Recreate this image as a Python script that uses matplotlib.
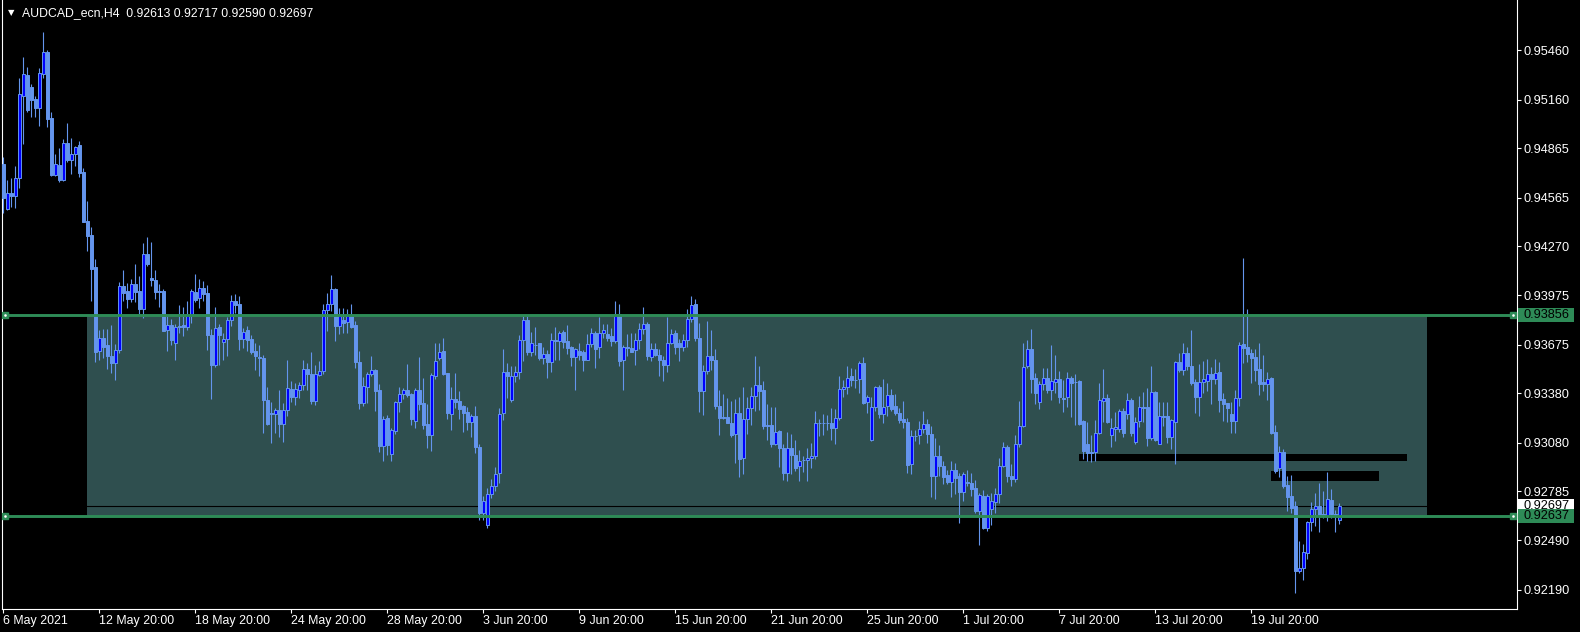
import numpy as np
import matplotlib
matplotlib.use("Agg")
import matplotlib.pyplot as plt
from matplotlib.patches import Rectangle

# AUDCAD H4 candles, bar 0 = 6 May 2021 20:00
opens = [
    0.94768, 0.94494, 0.94591, 0.94578, 0.94682, 0.95183, 0.95309, 0.95236, 0.95163, 0.95111,
    0.95317, 0.95446, 0.95047, 0.94703, 0.94764, 0.94673, 0.94895, 0.94796, 0.94828, 0.94884,
    0.94721, 0.94424, 0.94339, 0.94143, 0.93635, 0.93713, 0.93670, 0.93608, 0.93562, 0.93641,
    0.94029, 0.93998, 0.93949, 0.94043, 0.94002, 0.93892, 0.94227, 0.94080, 0.94068, 0.94000,
    0.94000, 0.93762, 0.93796, 0.93686, 0.93788, 0.93792, 0.93784, 0.93853, 0.93992, 0.93956,
    0.94017, 0.93988, 0.93735, 0.93549, 0.93780, 0.93692, 0.93711, 0.93823, 0.93939, 0.93921,
    0.93707, 0.93762, 0.93707, 0.93639, 0.93602, 0.93596, 0.93339, 0.93260, 0.93256, 0.93276,
    0.93194, 0.93276, 0.93409, 0.93360, 0.93402, 0.93429, 0.93527, 0.93498, 0.93335, 0.93490,
    0.93513, 0.93884, 0.93919, 0.94013, 0.93788, 0.93825, 0.93813, 0.93857, 0.93792, 0.93568,
    0.93323, 0.93421, 0.93494, 0.93523, 0.93400, 0.93059, 0.93229, 0.93013, 0.93151, 0.93325,
    0.93374, 0.93400, 0.93376, 0.93213, 0.93400, 0.93323, 0.93192, 0.93125, 0.93482, 0.93594,
    0.93635, 0.93502, 0.93257, 0.93343, 0.93331, 0.93302, 0.93266, 0.93204, 0.93241, 0.93057,
    0.92655, 0.92584, 0.92772, 0.92817, 0.92894, 0.93258, 0.93509, 0.93340, 0.93482, 0.93507,
    0.93703, 0.93825, 0.93633, 0.93674, 0.93682, 0.93591, 0.93619, 0.93568, 0.93703, 0.93699,
    0.93754, 0.93695, 0.93658, 0.93599, 0.93637, 0.93629, 0.93584, 0.93680, 0.93748, 0.93660,
    0.93748, 0.93737, 0.93725, 0.93697, 0.93858, 0.93584, 0.93662, 0.93652, 0.93642, 0.93701,
    0.93772, 0.93799, 0.93601, 0.93646, 0.93615, 0.93584, 0.93554, 0.93686, 0.93748, 0.93682,
    0.93660, 0.93703, 0.93833, 0.93921, 0.93717, 0.93391, 0.93515, 0.93609, 0.93584, 0.93303,
    0.93235, 0.93235, 0.93203, 0.93135, 0.93258, 0.92989, 0.93227, 0.93289, 0.93364, 0.93431,
    0.93401, 0.93186, 0.93186, 0.93074, 0.93152, 0.93050, 0.92895, 0.93050, 0.93009, 0.92942,
    0.92976, 0.92976, 0.92989, 0.93001, 0.93201, 0.93203, 0.93203, 0.93202, 0.93172, 0.93231,
    0.93407, 0.93417, 0.93482, 0.93462, 0.93466, 0.93564, 0.93325, 0.93098, 0.93298, 0.93417,
    0.93253, 0.93302, 0.93368, 0.93302, 0.93262, 0.93227, 0.93207, 0.92951, 0.93123, 0.93129,
    0.93166, 0.93196, 0.93135, 0.92880, 0.93000, 0.92937, 0.92886, 0.92845, 0.92915, 0.92876,
    0.92784, 0.92841, 0.92837, 0.92805, 0.92666, 0.92758, 0.92564, 0.92676, 0.92721, 0.92768,
    0.92941, 0.93053, 0.92880, 0.92860, 0.93074, 0.93182, 0.93543, 0.93651, 0.93472, 0.93329,
    0.93437, 0.93472, 0.93400, 0.93451, 0.93466, 0.93351, 0.93355, 0.93472, 0.93451, 0.93457,
    0.93210, 0.93070, 0.93023, 0.93023, 0.93139, 0.93335, 0.93351, 0.93129, 0.93163, 0.93166,
    0.93272, 0.93257, 0.93339, 0.93084, 0.93212, 0.93294, 0.93298, 0.93108, 0.93390, 0.93074,
    0.93241, 0.93242, 0.93115, 0.93207, 0.93570, 0.93523, 0.93623, 0.93548, 0.93450, 0.93360,
    0.93448, 0.93456, 0.93497, 0.93466, 0.93507, 0.93344, 0.93323, 0.93254, 0.93213, 0.93350,
    0.93676, 0.93658, 0.93627, 0.93597, 0.93529, 0.93446, 0.93434, 0.93470, 0.93146, 0.92927,
    0.93023, 0.92825, 0.92758, 0.92697, 0.92300, 0.92324, 0.92411, 0.92603, 0.92680, 0.92697,
    0.92646, 0.92636, 0.92734, 0.92646, 0.92613,
]
highs = [
    0.94812, 0.94673, 0.94682, 0.94758, 0.95288, 0.95418, 0.95357, 0.95253, 0.95183, 0.95353,
    0.95571, 0.95460, 0.95082, 0.94828, 0.94869, 0.94921, 0.95018, 0.94929, 0.94880, 0.94909,
    0.94743, 0.94545, 0.94388, 0.94194, 0.93762, 0.93768, 0.93768, 0.93792, 0.93676, 0.94057,
    0.94129, 0.94049, 0.94074, 0.94162, 0.94092, 0.94288, 0.94325, 0.94296, 0.94129, 0.94043,
    0.94013, 0.93853, 0.93829, 0.93798, 0.93915, 0.93904, 0.93939, 0.94013, 0.94104, 0.94074,
    0.94062, 0.94037, 0.93768, 0.93902, 0.93798, 0.93743, 0.93845, 0.93976, 0.93982, 0.93968,
    0.93774, 0.93788, 0.93731, 0.93686, 0.93674, 0.93615, 0.93421, 0.93327, 0.93288, 0.93400,
    0.93323, 0.93584, 0.93453, 0.93445, 0.93449, 0.93584, 0.93564, 0.93633, 0.93553, 0.93578,
    0.93921, 0.93988, 0.94098, 0.94020, 0.93894, 0.93896, 0.93890, 0.93921, 0.93819, 0.93639,
    0.93478, 0.93508, 0.93608, 0.93530, 0.93437, 0.93243, 0.93247, 0.93168, 0.93335, 0.93421,
    0.93415, 0.93559, 0.93380, 0.93411, 0.93600, 0.93470, 0.93315, 0.93502, 0.93682, 0.93682,
    0.93717, 0.93506, 0.93417, 0.93506, 0.93394, 0.93308, 0.93298, 0.93253, 0.93302, 0.93074,
    0.92757, 0.92804, 0.92859, 0.92935, 0.93288, 0.93650, 0.93564, 0.93548, 0.93548, 0.93731,
    0.93854, 0.93854, 0.93752, 0.93780, 0.93686, 0.93662, 0.93642, 0.93748, 0.93784, 0.93760,
    0.93764, 0.93793, 0.93666, 0.93654, 0.93682, 0.93642, 0.93737, 0.93778, 0.93756, 0.93840,
    0.93799, 0.93799, 0.93778, 0.93937, 0.93921, 0.93670, 0.93737, 0.93748, 0.93748, 0.93803,
    0.93903, 0.93811, 0.93686, 0.93682, 0.93646, 0.93609, 0.93840, 0.93772, 0.93762, 0.93707,
    0.93742, 0.93891, 0.93968, 0.93952, 0.93809, 0.93554, 0.93819, 0.93764, 0.93646, 0.93401,
    0.93374, 0.93350, 0.93335, 0.93344, 0.93356, 0.93417, 0.93356, 0.93417, 0.93609, 0.93548,
    0.93456, 0.93315, 0.93299, 0.93299, 0.93156, 0.93074, 0.93144, 0.93131, 0.93099, 0.93037,
    0.93003, 0.93050, 0.93078, 0.93272, 0.93227, 0.93254, 0.93248, 0.93288, 0.93284, 0.93486,
    0.93462, 0.93543, 0.93533, 0.93527, 0.93578, 0.93602, 0.93370, 0.93360, 0.93425, 0.93431,
    0.93466, 0.93445, 0.93405, 0.93376, 0.93292, 0.93333, 0.93233, 0.93156, 0.93156, 0.93211,
    0.93274, 0.93225, 0.93180, 0.93107, 0.93064, 0.92972, 0.92915, 0.92972, 0.92956, 0.92894,
    0.92900, 0.92915, 0.92894, 0.92856, 0.92778, 0.92792, 0.92768, 0.92776, 0.92809, 0.92988,
    0.93084, 0.93064, 0.92950, 0.93125, 0.93335, 0.93686, 0.93706, 0.93768, 0.93502, 0.93457,
    0.93533, 0.93533, 0.93670, 0.93614, 0.93517, 0.93461, 0.93512, 0.93486, 0.93498, 0.93461,
    0.93217, 0.93206, 0.93125, 0.93217, 0.93441, 0.93527, 0.93374, 0.93233, 0.93268, 0.93284,
    0.93288, 0.93380, 0.93349, 0.93237, 0.93363, 0.93390, 0.93410, 0.93547, 0.93394, 0.93329,
    0.93329, 0.93327, 0.93227, 0.93578, 0.93625, 0.93687, 0.93658, 0.93762, 0.93466, 0.93560,
    0.93578, 0.93585, 0.93540, 0.93585, 0.93572, 0.93380, 0.93323, 0.93327, 0.93397, 0.93693,
    0.94197, 0.93891, 0.93646, 0.93646, 0.93682, 0.93615, 0.93507, 0.93476, 0.93187, 0.93058,
    0.93040, 0.92880, 0.92887, 0.92727, 0.92487, 0.92466, 0.92609, 0.92723, 0.92776, 0.92834,
    0.92785, 0.92905, 0.92803, 0.92672, 0.92717,
]
lows = [
    0.94475, 0.94490, 0.94511, 0.94501, 0.94626, 0.94892, 0.95086, 0.95057, 0.95057, 0.95002,
    0.95288, 0.94996, 0.94699, 0.94699, 0.94663, 0.94667, 0.94783, 0.94711, 0.94760, 0.94692,
    0.94420, 0.94244, 0.93939, 0.93572, 0.93580, 0.93594, 0.93527, 0.93506, 0.93462, 0.93625,
    0.93941, 0.93896, 0.93931, 0.93931, 0.93859, 0.93839, 0.94149, 0.94033, 0.93953, 0.93900,
    0.93757, 0.93635, 0.93672, 0.93580, 0.93747, 0.93727, 0.93764, 0.93804, 0.93931, 0.93896,
    0.93941, 0.93645, 0.93347, 0.93537, 0.93549, 0.93584, 0.93604, 0.93788, 0.93866, 0.93645,
    0.93656, 0.93635, 0.93621, 0.93523, 0.93482, 0.93139, 0.93186, 0.93078, 0.93139, 0.93115,
    0.93084, 0.93245, 0.93329, 0.93309, 0.93349, 0.93400, 0.93400, 0.93315, 0.93311, 0.93486,
    0.93498, 0.93758, 0.93880, 0.93696, 0.93737, 0.93743, 0.93747, 0.93774, 0.93531, 0.93284,
    0.93302, 0.93319, 0.93482, 0.93274, 0.93023, 0.92968, 0.93008, 0.92968, 0.93135, 0.93268,
    0.93343, 0.93359, 0.93188, 0.93170, 0.93278, 0.93164, 0.93047, 0.93033, 0.93466, 0.93584,
    0.93492, 0.93227, 0.93155, 0.93288, 0.93227, 0.93145, 0.93155, 0.93115, 0.93017, 0.92615,
    0.92615, 0.92564, 0.92747, 0.92788, 0.92839, 0.93221, 0.93354, 0.93329, 0.93446, 0.93466,
    0.93574, 0.93613, 0.93605, 0.93613, 0.93584, 0.93560, 0.93470, 0.93507, 0.93580, 0.93580,
    0.93654, 0.93621, 0.93548, 0.93397, 0.93580, 0.93513, 0.93580, 0.93662, 0.93531, 0.93593,
    0.93717, 0.93695, 0.93666, 0.93686, 0.93548, 0.93401, 0.93605, 0.93629, 0.93552, 0.93646,
    0.93737, 0.93584, 0.93574, 0.93605, 0.93486, 0.93452, 0.93507, 0.93676, 0.93621, 0.93574,
    0.93635, 0.93662, 0.93813, 0.93697, 0.93268, 0.93248, 0.93499, 0.93523, 0.93282, 0.93125,
    0.93223, 0.93197, 0.93113, 0.92956, 0.92870, 0.92891, 0.93135, 0.93186, 0.93274, 0.93278,
    0.93166, 0.93095, 0.93054, 0.93064, 0.92935, 0.92854, 0.92850, 0.92891, 0.92911, 0.92850,
    0.92901, 0.92850, 0.92925, 0.92980, 0.93119, 0.93125, 0.93156, 0.93094, 0.93070, 0.93217,
    0.93360, 0.93376, 0.93425, 0.93411, 0.93384, 0.93315, 0.93258, 0.93090, 0.93274, 0.93233,
    0.93200, 0.93241, 0.93274, 0.93247, 0.93200, 0.93172, 0.92898, 0.92890, 0.93090, 0.93070,
    0.93139, 0.93078, 0.92751, 0.92737, 0.92880, 0.92829, 0.92829, 0.92751, 0.92768, 0.92594,
    0.92727, 0.92819, 0.92758, 0.92656, 0.92458, 0.92560, 0.92547, 0.92580, 0.92656, 0.92717,
    0.92931, 0.92840, 0.92820, 0.92840, 0.93053, 0.93176, 0.93533, 0.93380, 0.93314, 0.93286,
    0.93400, 0.93384, 0.93339, 0.93380, 0.93319, 0.93268, 0.93298, 0.93237, 0.93186, 0.93186,
    0.92982, 0.92968, 0.92961, 0.92972, 0.93135, 0.93206, 0.93200, 0.93053, 0.93090, 0.93145,
    0.93114, 0.93227, 0.93119, 0.93070, 0.93176, 0.93206, 0.93059, 0.93094, 0.93090, 0.93070,
    0.93180, 0.93078, 0.93040, 0.92952, 0.93507, 0.93493, 0.93519, 0.93431, 0.93262, 0.93244,
    0.93380, 0.93391, 0.93315, 0.93434, 0.93268, 0.93213, 0.93207, 0.93140, 0.93140, 0.93305,
    0.93564, 0.93568, 0.93442, 0.93452, 0.93372, 0.93391, 0.93340, 0.93136, 0.92895, 0.92870,
    0.92805, 0.92666, 0.92656, 0.92169, 0.92290, 0.92246, 0.92375, 0.92544, 0.92576, 0.92540,
    0.92625, 0.92609, 0.92625, 0.92540, 0.92590,
]
closes = [
    0.94566, 0.94591, 0.94576, 0.94682, 0.95192, 0.95313, 0.95097, 0.95159, 0.95111, 0.95319,
    0.95446, 0.95045, 0.94703, 0.94768, 0.94673, 0.94895, 0.94793, 0.94828, 0.94871, 0.94717,
    0.94420, 0.94335, 0.94135, 0.93632, 0.93717, 0.93659, 0.93604, 0.93562, 0.93641, 0.94029,
    0.93986, 0.93953, 0.94045, 0.93996, 0.93890, 0.94227, 0.94162, 0.94064, 0.93996, 0.93996,
    0.93757, 0.93794, 0.93702, 0.93784, 0.93784, 0.93784, 0.93853, 0.94000, 0.93947, 0.94017,
    0.93982, 0.93731, 0.93549, 0.93778, 0.93731, 0.93711, 0.93823, 0.93939, 0.93915, 0.93707,
    0.93753, 0.93700, 0.93631, 0.93604, 0.93592, 0.93339, 0.93196, 0.93256, 0.93276, 0.93194,
    0.93276, 0.93411, 0.93360, 0.93404, 0.93431, 0.93527, 0.93496, 0.93333, 0.93498, 0.93515,
    0.93884, 0.93919, 0.94013, 0.93788, 0.93853, 0.93804, 0.93857, 0.93784, 0.93568, 0.93323,
    0.93425, 0.93498, 0.93523, 0.93396, 0.93059, 0.93227, 0.93064, 0.93155, 0.93329, 0.93374,
    0.93400, 0.93370, 0.93223, 0.93400, 0.93315, 0.93186, 0.93125, 0.93492, 0.93578, 0.93633,
    0.93496, 0.93262, 0.93343, 0.93329, 0.93284, 0.93262, 0.93204, 0.93245, 0.93053, 0.92655,
    0.92727, 0.92772, 0.92817, 0.92890, 0.93257, 0.93509, 0.93482, 0.93482, 0.93507, 0.93703,
    0.93825, 0.93633, 0.93686, 0.93670, 0.93591, 0.93619, 0.93568, 0.93703, 0.93697, 0.93748,
    0.93691, 0.93652, 0.93599, 0.93646, 0.93611, 0.93584, 0.93680, 0.93748, 0.93650, 0.93748,
    0.93766, 0.93717, 0.93695, 0.93858, 0.93574, 0.93662, 0.93654, 0.93633, 0.93701, 0.93772,
    0.93797, 0.93605, 0.93646, 0.93615, 0.93580, 0.93554, 0.93686, 0.93742, 0.93660, 0.93660,
    0.93703, 0.93833, 0.93917, 0.93713, 0.93391, 0.93515, 0.93605, 0.93580, 0.93303, 0.93231,
    0.93231, 0.93201, 0.93127, 0.93258, 0.92980, 0.93227, 0.93289, 0.93366, 0.93433, 0.93391,
    0.93182, 0.93182, 0.93074, 0.93148, 0.93048, 0.92895, 0.93050, 0.93005, 0.92927, 0.92968,
    0.92976, 0.92989, 0.93001, 0.93197, 0.93201, 0.93203, 0.93203, 0.93170, 0.93231, 0.93405,
    0.93421, 0.93472, 0.93458, 0.93462, 0.93564, 0.93321, 0.93356, 0.93298, 0.93417, 0.93253,
    0.93298, 0.93368, 0.93282, 0.93258, 0.93217, 0.93207, 0.92947, 0.93121, 0.93123, 0.93166,
    0.93194, 0.93135, 0.92876, 0.93000, 0.92939, 0.92874, 0.92845, 0.92915, 0.92868, 0.92784,
    0.92890, 0.92837, 0.92802, 0.92666, 0.92766, 0.92564, 0.92758, 0.92727, 0.92768, 0.92941,
    0.93057, 0.92880, 0.92860, 0.93074, 0.93184, 0.93539, 0.93649, 0.93468, 0.93380, 0.93437,
    0.93472, 0.93400, 0.93455, 0.93466, 0.93359, 0.93347, 0.93472, 0.93445, 0.93449, 0.93196,
    0.93033, 0.93017, 0.93021, 0.93139, 0.93339, 0.93349, 0.93206, 0.93172, 0.93176, 0.93272,
    0.93139, 0.93339, 0.93139, 0.93206, 0.93298, 0.93292, 0.93108, 0.93388, 0.93094, 0.93241,
    0.93239, 0.93115, 0.93217, 0.93570, 0.93519, 0.93623, 0.93544, 0.93442, 0.93360, 0.93448,
    0.93466, 0.93497, 0.93466, 0.93503, 0.93340, 0.93315, 0.93293, 0.93213, 0.93350, 0.93672,
    0.93654, 0.93617, 0.93591, 0.93523, 0.93438, 0.93434, 0.93466, 0.93140, 0.92907, 0.93023,
    0.92821, 0.92752, 0.92687, 0.92300, 0.92320, 0.92417, 0.92603, 0.92680, 0.92697, 0.92636,
    0.92642, 0.92738, 0.92646, 0.92642, 0.92697,
]

tick_bars = [0, 24, 48, 72, 96, 120, 144, 168, 192, 216, 240, 264, 288, 312]
tick_labels = ["6 May 2021", "12 May 20:00", "18 May 20:00", "24 May 20:00", "28 May 20:00",
               "3 Jun 20:00", "9 Jun 20:00", "15 Jun 20:00", "21 Jun 20:00", "25 Jun 20:00",
               "1 Jul 20:00", "7 Jul 20:00", "13 Jul 20:00", "19 Jul 20:00"]
price_ticks = [0.95460, 0.95160, 0.94865, 0.94565, 0.94270, 0.93975,
               0.93675, 0.93380, 0.93080, 0.92785, 0.92490, 0.92190]

level_high = 0.93856
level_low = 0.92637
bid = 0.92697
zone = (21, 356)                      # bars spanned by the teal zone
blocks = [(269, 351, 0.92972, 0.93012),  # black rectangles: bar0, bar1, low, high
          (317, 344, 0.92850, 0.92909)]

BG = "black"
FG = "white"
CANDLE = "#6495ED"
BULL = "#0000FF"
GREEN = "#2E8B57"
ZONE = "#2F4F4F"

plt.rcParams["font.family"] = ["Liberation Sans", "DejaVu Sans"]
FS = 9.2
FSX = 8.9

W, H = 1580, 632
fig = plt.figure(figsize=(W / 100, H / 100), dpi=100, facecolor=BG)
ax = fig.add_axes([2 / W, 23 / H, 1515 / W, 609 / H])
ax.set_facecolor(BG)

o = np.array(opens)
h = np.array(highs)
l = np.array(lows)
c = np.array(closes)
x = np.arange(len(c))

ax.set_xlim(-0.325, 378.425)
ax.set_ylim(0.920727, 0.957636)

ax.add_patch(Rectangle((zone[0], level_low), zone[1] - zone[0], level_high - level_low,
                       facecolor=ZONE, edgecolor="none", zorder=1))
for b0, b1, p0, p1 in blocks:
    ax.add_patch(Rectangle((b0, p0), b1 - b0, p1 - p0, facecolor="black",
                           edgecolor="none", zorder=2))
ax.axhline(bid, color="black", lw=0.8, zorder=2.5)

ax.vlines(x, l, h, color=CANDLE, lw=0.8, zorder=3)
up = c >= o
ax.bar(x[up], c[up] - o[up], bottom=o[up], width=0.72, color=BULL,
       edgecolor=CANDLE, linewidth=0.7, zorder=3.5)
ax.bar(x[~up], o[~up] - c[~up], bottom=c[~up], width=0.72, color=CANDLE,
       edgecolor=CANDLE, linewidth=0.7, zorder=3.5)

yt = ax.get_yaxis_transform()
for lvl in (level_high, level_low):
    ax.axhline(lvl, color=GREEN, lw=2.1, zorder=4)
    ax.plot([0.0023, 0.9974], [lvl, lvl], "s", color=GREEN, ms=5, transform=yt, zorder=5)
    ax.plot([0.0023, 0.9974], [lvl, lvl], "s", color=FG, ms=0.8, transform=yt, zorder=6)

# axes frame and ticks
for side in ("left", "bottom", "right"):
    ax.spines[side].set_color(FG)
    ax.spines[side].set_linewidth(0.8)
ax.spines["top"].set_visible(False)

ax.yaxis.tick_right()
ax.set_yticks(price_ticks)
ax.set_yticklabels([f"{p:.5f}" for p in price_ticks])
ax.tick_params(axis="y", colors=FG, length=3, width=0.8, pad=2, labelsize=FS)
ax.set_xticks(tick_bars)
ax.set_xticklabels(tick_labels)
ax.tick_params(axis="x", colors=FG, length=3, width=0.8, pad=1, labelsize=FSX)
for t in ax.get_xticklabels():
    t.set_horizontalalignment("left")

# price tags on the right axis
bw = 56 / 1515
hh = 0.00041
ax.add_patch(Rectangle((1.0007, bid - hh), bw, 2 * hh, facecolor=FG, edgecolor="none",
                       transform=yt, clip_on=False, zorder=7))
ax.text(1.004, bid, f"{bid:.5f}", transform=yt, color="black", fontsize=FS,
        va="center", ha="left", clip_on=False, zorder=8)
for lvl in (level_high, level_low):
    ax.add_patch(Rectangle((1.0007, lvl - hh), bw, 2 * hh, facecolor=GREEN, edgecolor="none",
                           transform=yt, clip_on=False, zorder=9))
    ax.text(1.004, lvl, f"{lvl:.5f}", transform=yt, color="black", fontsize=FS,
            va="center", ha="left", clip_on=False, zorder=10)

# header
fig.text(11 / W, 1 - 12.5 / H, "\u25bc", color=FG, fontsize=6, family="DejaVu Sans",
         ha="center", va="center")
fig.text(22 / W, 1 - 12.7 / H,
         f"AUDCAD_ecn,H4  {opens[-1]:.5f} {highs[-1]:.5f} {lows[-1]:.5f} {closes[-1]:.5f}",
         color=FG, fontsize=8.8, va="center")

fig.savefig("out.png", dpi=100, facecolor=BG)
